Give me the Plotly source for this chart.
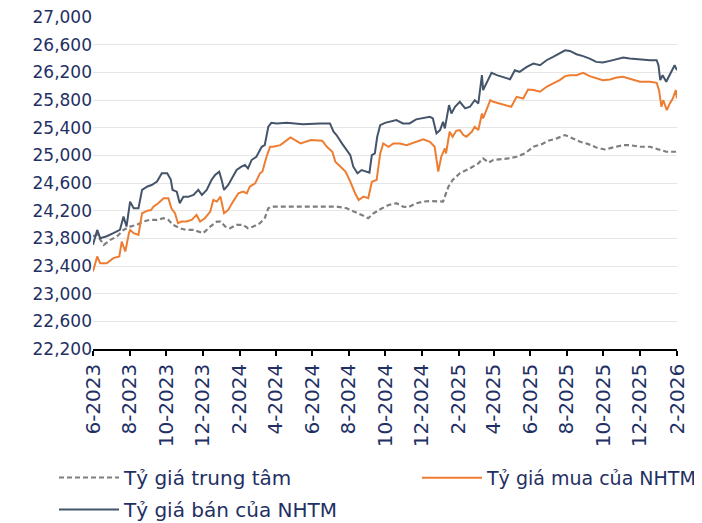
import plotly.graph_objects as go

# ---- data ----
sell_dates = ["2023-06-01","2023-06-08","2023-06-13","2023-06-24","2023-07-05","2023-07-16","2023-07-22","2023-07-27",
              "2023-08-02","2023-08-08","2023-08-16","2023-08-22","2023-08-31","2023-09-07","2023-09-16","2023-09-24",
              "2023-10-03","2023-10-09","2023-10-12","2023-10-19","2023-10-24","2023-10-30","2023-11-07","2023-11-16",
              "2023-11-24","2023-11-30","2023-12-08","2023-12-16","2023-12-22","2023-12-29","2024-01-02","2024-01-06",
              "2024-01-13","2024-01-21","2024-01-27","2024-02-04","2024-02-10","2024-02-15","2024-02-21","2024-02-29",
              "2024-03-09","2024-03-14","2024-03-20","2024-03-25","2024-04-03","2024-04-20","2024-05-17","2024-06-14",
              "2024-07-01","2024-07-07","2024-07-12","2024-07-21","2024-07-29","2024-08-04","2024-08-09","2024-08-16",
              "2024-08-23","2024-08-31","2024-09-05","2024-09-09","2024-09-14","2024-09-18","2024-09-23","2024-10-01",
              "2024-10-09","2024-10-20","2024-10-31","2024-11-11","2024-11-22","2024-12-04","2024-12-15","2024-12-20",
              "2024-12-26","2025-01-01","2025-01-06","2025-01-09","2025-01-16","2025-01-20","2025-01-26","2025-02-03",
              "2025-02-12","2025-02-20","2025-02-28","2025-03-06","2025-03-12","2025-03-14","2025-03-20","2025-03-28",
              "2025-04-06","2025-04-17","2025-04-28","2025-05-06","2025-05-14","2025-05-26","2025-06-06","2025-06-17",
              "2025-06-28","2025-07-09","2025-07-20","2025-07-29","2025-08-06","2025-08-17","2025-08-28","2025-09-08",
              "2025-09-19","2025-09-30","2025-10-12","2025-10-23","2025-11-03","2025-11-14","2025-12-01","2025-12-18",
              "2025-12-29","2026-01-01","2026-01-04","2026-01-08","2026-01-14","2026-01-20","2026-01-28","2026-02-01"]
sell_vals = [23706,23922,23802,23830,23874,23922,24114,23970,
             24330,24235,24235,24500,24550,24571,24620,24740,
             24740,24650,24500,24475,24307,24400,24400,24427,
             24500,24427,24500,24643,24715,24763,24643,24500,
             24571,24690,24788,24836,24860,24812,24932,24980,
             25124,25148,25413,25470,25461,25470,25450,25461,
             25461,25341,25293,25173,25076,25004,24836,24740,
             24788,24764,24750,25004,25028,25268,25437,25470,
             25485,25509,25461,25461,25520,25544,25557,25533,
             25317,25365,25485,25389,25726,25605,25702,25774,
             25678,25702,25798,25750,26159,25943,26040,26192,
             26159,26135,26100,26231,26207,26279,26327,26303,
             26375,26423,26480,26519,26510,26462,26434,26399,
             26351,26342,26366,26385,26414,26399,26385,26375,
             26375,26303,26087,26159,26063,26159,26303,26231]

buy_dates = ["2023-06-01","2023-06-08","2023-06-13","2023-06-24","2023-07-05","2023-07-15","2023-07-19","2023-07-25",
             "2023-07-31","2023-08-02","2023-08-08","2023-08-16","2023-08-22","2023-08-31","2023-09-06","2023-09-10",
             "2023-09-18","2023-09-27","2023-10-05","2023-10-10","2023-10-16","2023-10-21","2023-10-27","2023-11-04",
             "2023-11-13","2023-11-21","2023-11-27","2023-12-05","2023-12-14","2023-12-19","2023-12-25","2023-12-31",
             "2024-01-06","2024-01-13","2024-01-21","2024-01-30","2024-02-07","2024-02-13","2024-02-18","2024-02-27",
             "2024-03-06","2024-03-10","2024-03-17","2024-03-23","2024-03-28","2024-04-09","2024-04-26","2024-05-13",
             "2024-05-30","2024-06-18","2024-06-26","2024-07-05","2024-07-10","2024-07-19","2024-07-27","2024-08-04",
             "2024-08-12","2024-08-18","2024-08-26","2024-09-03","2024-09-09","2024-09-17","2024-09-23","2024-09-28",
             "2024-10-07","2024-10-15","2024-10-26","2024-11-06","2024-11-22","2024-12-04","2024-12-15","2024-12-23",
             "2024-12-29","2025-01-03","2025-01-09","2025-01-11","2025-01-17","2025-01-22","2025-01-28","2025-02-03",
             "2025-02-09","2025-02-14","2025-02-23","2025-02-28","2025-03-06","2025-03-12","2025-03-14","2025-03-20",
             "2025-03-26","2025-03-31","2025-04-11","2025-04-22","2025-04-30","2025-05-09","2025-05-20","2025-05-28",
             "2025-06-06","2025-06-17","2025-06-28","2025-07-09","2025-07-20","2025-07-29","2025-08-06","2025-08-17",
             "2025-08-28","2025-09-08","2025-09-19","2025-09-30","2025-10-12","2025-10-23","2025-11-03","2025-11-14",
             "2025-12-01","2025-12-18","2025-12-29","2026-01-02","2026-01-06","2026-01-09","2026-01-15","2026-01-20",
             "2026-01-25","2026-01-30","2026-02-01"]
buy_vals = [23320,23537,23440,23440,23514,23537,23753,23610,
            23874,23922,23874,23850,24163,24200,24210,24258,
            24307,24379,24379,24235,24163,24019,24043,24043,
            24067,24139,24043,24091,24187,24355,24331,24403,
            24163,24211,24331,24451,24475,24451,24547,24595,
            24740,24763,24980,25124,25124,25148,25259,25172,
            25220,25211,25124,25052,24908,24836,24764,24619,
            24452,24355,24403,24380,24619,24643,25028,25172,
            25124,25172,25172,25148,25196,25230,25196,25124,
            24764,24980,25100,25028,25341,25268,25355,25365,
            25293,25269,25341,25413,25365,25606,25534,25654,
            25798,25774,25750,25726,25702,25846,25822,25952,
            25943,25919,25991,26040,26087,26145,26159,26159,
            26192,26145,26111,26087,26097,26125,26135,26111,
            26063,26063,26049,25943,25702,25798,25654,25750,
            25822,25943,25822]

central_dates = ["2023-06-01","2023-06-08","2023-06-19","2023-06-30","2023-07-11","2023-07-22","2023-08-02","2023-08-13",
                 "2023-08-24","2023-09-04","2023-09-16","2023-09-27","2023-10-05","2023-10-13","2023-10-24","2023-11-04",
                 "2023-11-16","2023-11-24","2023-12-02","2023-12-14","2023-12-25","2023-12-31","2024-01-08","2024-01-16",
                 "2024-01-27","2024-02-07","2024-02-15","2024-02-24","2024-03-06","2024-03-14","2024-03-20","2024-03-25",
                 "2024-04-09","2024-04-26","2024-05-17","2024-06-14","2024-07-12","2024-07-29","2024-08-12","2024-08-23",
                 "2024-09-03","2024-09-12","2024-09-23","2024-10-07","2024-10-20","2024-10-31","2024-11-09","2024-11-22",
                 "2024-12-04","2024-12-15","2025-01-06","2025-01-15","2025-01-22","2025-02-03","2025-02-20","2025-03-06",
                 "2025-03-14","2025-03-23","2025-03-31","2025-04-11","2025-04-25","2025-05-09","2025-05-23","2025-06-06",
                 "2025-06-20","2025-07-01","2025-07-15","2025-07-29","2025-08-09","2025-08-23","2025-09-06","2025-09-19",
                 "2025-10-03","2025-10-17","2025-11-03","2025-11-14","2025-12-01","2025-12-18","2026-01-03","2026-01-14",
                 "2026-02-01"]
central_vals = [23830,23850,23706,23778,23826,23922,23970,23994,
                24043,24067,24067,24091,24067,23994,23946,23922,
                23922,23898,23874,23970,24043,24043,23970,23946,
                23994,23994,23946,23970,24019,24091,24235,24259,
                24259,24259,24250,24250,24259,24235,24187,24139,
                24091,24163,24220,24283,24307,24259,24250,24307,
                24331,24340,24331,24547,24643,24740,24812,24884,
                24956,24894,24932,24940,24956,24980,25028,25124,
                25162,25211,25245,25293,25245,25196,25162,25114,
                25085,25114,25148,25148,25124,25124,25085,25052,
                25052]

tick_dates = ["2023-06-01","2023-08-01","2023-10-01","2023-12-01","2024-02-01","2024-04-01","2024-06-01",
              "2024-08-01","2024-10-01","2024-12-01","2025-02-01","2025-04-01","2025-06-01","2025-08-01",
              "2025-10-01","2025-12-01","2026-02-01"]
tick_labels = ["6-2023","8-2023","10-2023","12-2023","2-2024","4-2024","6-2024","8-2024","10-2024","12-2024",
               "2-2025","4-2025","6-2025","8-2025","10-2025","12-2025","2-2026"]
y_ticks = list(range(22200, 27001, 400))

series_names = ["Tỷ giá trung tâm", "Tỷ giá mua của NHTM", "Tỷ giá bán của NHTM"]

TEXT = "#1F3064"
FONT = "DejaVu Sans"
W, H = 694, 515  # page body has an 8px margin, so the figure fills the 702x523 window

fig = go.Figure()
fig.add_trace(go.Scatter(x=central_dates, y=central_vals, mode="lines", name=series_names[0],
                         legend="legend", legendgroup="g1",
                         line=dict(color="#7F7F7F", width=2.2, dash="5px,3px")))
fig.add_trace(go.Scatter(x=buy_dates, y=buy_vals, mode="lines", name=series_names[1],
                         legend="legend2", legendgroup="g2",
                         line=dict(color="#ED7D31", width=2)))
fig.add_trace(go.Scatter(x=sell_dates, y=sell_vals, mode="lines", name=series_names[2],
                         legend="legend", legendgroup="g3",
                         line=dict(color="#44546A", width=2)))

leg_common = dict(orientation="v", yanchor="top", xref="container", yref="container",
                  itemwidth=60, tracegroupgap=3, bgcolor="rgba(0,0,0,0)")

fig.update_layout(
    width=W, height=H,
    margin=dict(l=85, r=25, t=9, b=174, autoexpand=False),
    paper_bgcolor="white", plot_bgcolor="white",
    font=dict(family=FONT, color=TEXT, size=17),
    showlegend=True,
    legend=dict(x=46/W, xanchor="left", y=1 - 450/H, font=dict(family=FONT, size=20, color=TEXT), **leg_common),
    legend2=dict(x=1.0, xanchor="right", y=1 - 451/H, font=dict(family=FONT, size=19, color=TEXT), **leg_common),
    xaxis=dict(type="date", range=["2023-06-01", "2026-02-01"], tickvals=tick_dates, ticktext=tick_labels,
               tickangle=-90, showgrid=False, showline=True, linecolor="black", linewidth=1.5,
               ticks="outside", ticklen=5, tickcolor="black", tickwidth=1.5,
               tickfont=dict(family=FONT, size=20, color=TEXT), zeroline=False),
    yaxis=dict(range=[22200, 27000], tickvals=y_ticks, tickformat=",", showgrid=True,
               gridcolor="#E6E6E6", gridwidth=1, showline=False, zeroline=False,
               ticks="", ticklabeloverflow="allow",
               tickfont=dict(family=FONT, size=17, color=TEXT)),
)

fig.write_html("out.html")
